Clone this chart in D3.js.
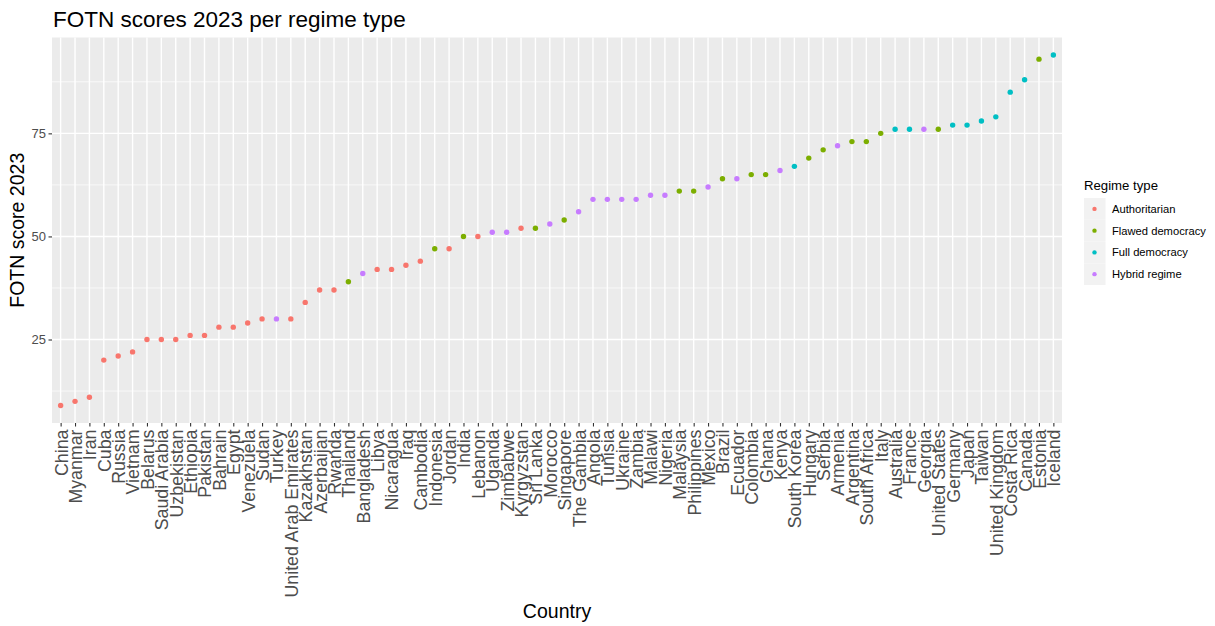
<!DOCTYPE html>
<html>
<head>
<meta charset="utf-8">
<script src="https://cdn.jsdelivr.net/npm/d3@7"></script>
<style>
  html, body { margin: 0; padding: 0; background: #fff; }
  svg { display: block; font-family: "Liberation Sans", Arial, sans-serif; }
</style>
</head>
<body>
<svg id="chart" width="1215" height="626"></svg>
<script>
const countries = ["China","Myanmar","Iran","Cuba","Russia","Vietnam","Belarus","Saudi Arabia","Uzbekistan","Ethiopia","Pakistan","Bahrain","Egypt","Venezuela","Sudan","Turkey","United Arab Emirates","Kazakhstan","Azerbaijan","Rwanda","Thailand","Bangladesh","Libya","Nicaragua","Iraq","Cambodia","Indonesia","Jordan","India","Lebanon","Uganda","Zimbabwe","Kyrgyzstan","Sri Lanka","Morocco","Singapore","The Gambia","Angola","Tunisia","Ukraine","Zambia","Malawi","Nigeria","Malaysia","Philippines","Mexico","Brazil","Ecuador","Colombia","Ghana","Kenya","South Korea","Hungary","Serbia","Armenia","Argentina","South Africa","Italy","Australia","France","Georgia","United States","Germany","Japan","Taiwan","United Kingdom","Costa Rica","Canada","Estonia","Iceland"];
const scores = [9,10,11,20,21,22,25,25,25,26,26,28,28,29,30,30,30,34,37,37,39,41,42,42,43,44,47,47,50,50,51,51,52,52,53,54,56,59,59,59,59,60,60,61,61,62,64,64,65,65,66,67,69,71,72,73,73,75,76,76,76,76,77,77,78,79,85,88,93,94];
const regimes = ["Authoritarian","Authoritarian","Authoritarian","Authoritarian","Authoritarian","Authoritarian","Authoritarian","Authoritarian","Authoritarian","Authoritarian","Authoritarian","Authoritarian","Authoritarian","Authoritarian","Authoritarian","Hybrid regime","Authoritarian","Authoritarian","Authoritarian","Authoritarian","Flawed democracy","Hybrid regime","Authoritarian","Authoritarian","Authoritarian","Authoritarian","Flawed democracy","Authoritarian","Flawed democracy","Authoritarian","Hybrid regime","Hybrid regime","Authoritarian","Flawed democracy","Hybrid regime","Flawed democracy","Hybrid regime","Hybrid regime","Hybrid regime","Hybrid regime","Hybrid regime","Hybrid regime","Hybrid regime","Flawed democracy","Flawed democracy","Hybrid regime","Flawed democracy","Hybrid regime","Flawed democracy","Flawed democracy","Hybrid regime","Full democracy","Flawed democracy","Flawed democracy","Hybrid regime","Flawed democracy","Flawed democracy","Flawed democracy","Full democracy","Full democracy","Hybrid regime","Flawed democracy","Full democracy","Full democracy","Full democracy","Full democracy","Full democracy","Full democracy","Flawed democracy","Full democracy"];
const regimeTypes = ["Authoritarian","Flawed democracy","Full democracy","Hybrid regime"];
const regimeColors = ["#F8766D","#7CAE00","#00BFC4","#C77CFF"];
const yTicks = [25,50,75];
const yMinorTicks = [12.5,37.5,62.5,87.5];

const svg = d3.select("#chart");
const panel = {left: 52, right: 1062, top: 37.5, bottom: 423};

const x = d3.scalePoint().domain(countries).range([panel.left, panel.right]).padding(0.6);
const ext = d3.extent(scores);
const pad = (ext[1] - ext[0]) * 0.05;
const y = d3.scaleLinear().domain([ext[0] - pad, ext[1] + pad]).range([panel.bottom, panel.top]);
const color = d3.scaleOrdinal().domain(regimeTypes).range(regimeColors);

// panel background
svg.append("rect")
  .attr("x", panel.left).attr("y", panel.top)
  .attr("width", panel.right - panel.left).attr("height", panel.bottom - panel.top)
  .attr("fill", "#EBEBEB");

const grid = svg.append("g");
grid.selectAll("line.minor").data(yMinorTicks).enter().append("line")
  .attr("x1", panel.left).attr("x2", panel.right)
  .attr("y1", d => y(d)).attr("y2", d => y(d))
  .attr("stroke", "#fff").attr("stroke-width", 0.7);
grid.selectAll("line.majy").data(yTicks).enter().append("line")
  .attr("x1", panel.left).attr("x2", panel.right)
  .attr("y1", d => y(d)).attr("y2", d => y(d))
  .attr("stroke", "#fff").attr("stroke-width", 1.4);
grid.selectAll("line.majx").data(countries).enter().append("line")
  .attr("x1", d => x(d)).attr("x2", d => x(d))
  .attr("y1", panel.top).attr("y2", panel.bottom)
  .attr("stroke", "#fff").attr("stroke-width", 1.4);

// points
svg.append("g").selectAll("circle").data(countries).enter().append("circle")
  .attr("cx", d => x(d))
  .attr("cy", (d, i) => y(scores[i]))
  .attr("r", 2.7)
  .attr("fill", (d, i) => color(regimes[i]));

// x axis
const xAxis = svg.append("g")
  .attr("transform", `translate(0,${panel.bottom})`)
  .call(d3.axisBottom(x).tickSize(3.5).tickPadding(3));
xAxis.select(".domain").remove();
xAxis.selectAll(".tick line").attr("stroke", "#333").attr("stroke-width", 1.1);
xAxis.selectAll(".tick text")
  .attr("fill", "#4D4D4D")
  .attr("font-size", "17.8px")
  .attr("transform", "rotate(-90)")
  .attr("text-anchor", "end")
  .attr("x", -6.5)
  .attr("y", 0)
  .attr("dy", "0.36em");

// y axis
const yAxis = svg.append("g")
  .attr("transform", `translate(${panel.left},0)`)
  .call(d3.axisLeft(y).tickValues(yTicks).tickSize(3.5).tickPadding(2.5));
yAxis.select(".domain").remove();
yAxis.selectAll(".tick line").attr("stroke", "#333").attr("stroke-width", 1.1);
yAxis.selectAll(".tick text").attr("fill", "#4D4D4D").attr("font-size", "13px");

// titles
svg.append("text")
  .attr("x", 53).attr("y", 27)
  .attr("font-size", "22.5px").attr("fill", "#000")
  .text("FOTN scores 2023 per regime type");

svg.append("text")
  .attr("transform", `translate(24,${(panel.top + panel.bottom) / 2}) rotate(-90)`)
  .attr("text-anchor", "middle")
  .attr("font-size", "19.5px").attr("fill", "#000")
  .text("FOTN score 2023");

svg.append("text")
  .attr("x", (panel.left + panel.right) / 2).attr("y", 618)
  .attr("text-anchor", "middle")
  .attr("font-size", "19.5px").attr("fill", "#000")
  .text("Country");

// legend
const legend = svg.append("g").attr("transform", "translate(1084,0)");
legend.append("text")
  .attr("x", 0).attr("y", 190)
  .attr("font-size", "13.2px").attr("fill", "#000")
  .text("Regime type");
const keyH = 21.75, keyTop = 198;
const keys = legend.selectAll("g.key").data(regimeTypes).enter().append("g")
  .attr("transform", (d, i) => `translate(0,${keyTop + i * keyH})`);
keys.append("rect")
  .attr("width", 21.5).attr("height", keyH)
  .attr("fill", "#F2F2F2");
keys.append("circle")
  .attr("cx", 10.5).attr("cy", keyH / 2)
  .attr("r", 2.2)
  .attr("fill", d => color(d));
keys.append("text")
  .attr("x", 28).attr("y", keyH / 2)
  .attr("dy", "0.36em")
  .attr("font-size", "11.2px").attr("fill", "#000")
  .text(d => d);
</script>
</body>
</html>
